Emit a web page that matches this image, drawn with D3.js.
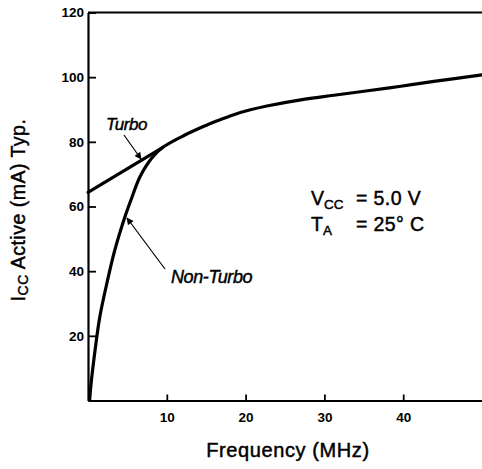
<!DOCTYPE html>
<html><head><meta charset="utf-8">
<script src="https://cdn.jsdelivr.net/npm/d3@7"></script>
<style>
html,body{margin:0;padding:0;background:#fff;}
text{font-family:"Liberation Sans",Arial,Helvetica,sans-serif;fill:#000;}
.heavy{stroke:#000;stroke-width:0.45px;}
</style></head>
<body><svg id="c" width="482" height="469"></svg>
<script>
// ---- data ----
const xTicks = [10, 20, 30, 40];
const yTicks = [20, 40, 60, 80, 100, 120];
const nonTurboFreq = [0.2, 0.4, 0.9, 1.5, 2.4, 3.4, 4.7, 5.6, 6.6, 8.1, 9.5];
const nonTurboVals = [0, 5.4, 15.6, 25.9, 36.3, 46.5, 56.9, 63.0, 69.2, 75.0, 78.3];
const turboFreq = [0, 9.5];
const turboVals = [64.4, 78.3];
const sharedFreq = [9.5, 12.3, 14.9, 16.4, 18.5, 20.6, 22.7, 27, 31.2, 35.5, 39.7, 43.9, 50];
const sharedVals = [78.3, 82.1, 85.0, 86.5, 88.4, 89.9, 91.1, 93.0, 94.4, 95.8, 97.2, 98.7, 100.7];

const svg = d3.select("#c");
const x = d3.scaleLinear().domain([0, 50]).range([88, 482]);
const y = d3.scaleLinear().domain([0, 120]).range([400.5, 12.5]);

// frame
svg.append("line").attr("x1", 88).attr("x2", 482).attr("y1", y(120)).attr("y2", y(120))
  .attr("stroke", "#000").attr("stroke-width", 2);

const xAxis = svg.append("g").attr("transform", `translate(0,${y(0)})`)
  .call(d3.axisBottom(x).tickValues(xTicks).tickSizeInner(-6).tickSizeOuter(0).tickPadding(12));
const yAxis = svg.append("g").attr("transform", `translate(${x(0)},0)`)
  .call(d3.axisLeft(y).tickValues(yTicks).tickSizeInner(-8).tickSizeOuter(0).tickPadding(4));
[xAxis, yAxis].forEach(g => {
  g.select(".domain").attr("stroke", "#000").attr("stroke-width", 2.2);
  g.selectAll(".tick line").attr("stroke", "#000").attr("stroke-width", 1.8);
  g.selectAll(".tick text").attr("font-family", "Liberation Sans, Arial, sans-serif")
    .attr("font-weight", "bold").attr("font-size", 13.5).attr("fill", "#000");
});
xAxis.selectAll(".tick text").attr("dy", "0.71em");

// curves
const line = d3.line().x(d => x(d[0])).y(d => y(d[1])).curve(d3.curveCatmullRom.alpha(0.5));
const nt = nonTurboFreq.map((f, i) => [f, nonTurboVals[i]])
  .concat(sharedFreq.slice(1).map((f, i) => [f, sharedVals[i + 1]]));
const tb = turboFreq.map((f, i) => [f, turboVals[i]]);
[nt, tb].forEach(d => {
  svg.append("path").attr("d", line(d)).attr("fill", "none")
    .attr("stroke", "#000").attr("stroke-width", 3.2).attr("stroke-linecap", "round");
});

// arrows
const defs = svg.append("defs");
defs.append("marker").attr("id", "ah").attr("viewBox", "0 0 10 10").attr("refX", 9).attr("refY", 5)
  .attr("markerWidth", 9).attr("markerHeight", 7).attr("markerUnits", "userSpaceOnUse").attr("orient", "auto")
  .append("path").attr("d", "M0,0 L10,5 L0,10 Z").attr("fill", "#000");
svg.append("line").attr("x1", 124).attr("y1", 135).attr("x2", 141).attr("y2", 159)
  .attr("stroke", "#000").attr("stroke-width", 1.2).attr("marker-end", "url(#ah)");
svg.append("line").attr("x1", 165).attr("y1", 269).attr("x2", 127).attr("y2", 218)
  .attr("stroke", "#000").attr("stroke-width", 1.2).attr("marker-end", "url(#ah)");

svg.append("text").attr("class", "heavy").attr("x", 106).attr("y", 130).attr("font-style", "italic")
  .attr("font-size", 17).attr("letter-spacing", -0.4).text("Turbo");
svg.append("text").attr("class", "heavy").attr("x", 171).attr("y", 283).attr("font-style", "italic")
  .attr("font-size", 18).attr("letter-spacing", -0.4).text("Non-Turbo");

// condition text
const t1 = svg.append("text").attr("class", "heavy").attr("x", 311).attr("y", 205).attr("font-size", 19.5);
t1.append("tspan").text("V");
t1.append("tspan").attr("font-size", 13.5).attr("dy", 4).text("CC");
svg.append("text").attr("class", "heavy").attr("x", 356).attr("y", 205).attr("font-size", 19.5)
  .attr("letter-spacing", 0.4).text("= 5.0 V");
const t2 = svg.append("text").attr("class", "heavy").attr("x", 311).attr("y", 231).attr("font-size", 19.5);
t2.append("tspan").text("T");
t2.append("tspan").attr("font-size", 13.5).attr("dy", 4).text("A");
svg.append("text").attr("class", "heavy").attr("x", 356).attr("y", 231).attr("font-size", 19.5)
  .attr("letter-spacing", 0.4).text("= 25° C");

// axis titles
svg.append("text").attr("class", "heavy").attr("x", 288).attr("y", 457).attr("text-anchor", "middle")
  .attr("font-size", 20).attr("letter-spacing", 0.6).text("Frequency (MHz)");
const yl = svg.append("text").attr("class", "heavy").attr("transform", "translate(25,210) rotate(-90)")
  .attr("text-anchor", "middle").attr("font-size", 19.5).attr("letter-spacing", 0.5);
yl.append("tspan").text("I");
yl.append("tspan").attr("font-size", 14).attr("dy", 3).text("CC");
yl.append("tspan").attr("dy", -3).text(" Active (mA) Typ.");
</script></body></html>
